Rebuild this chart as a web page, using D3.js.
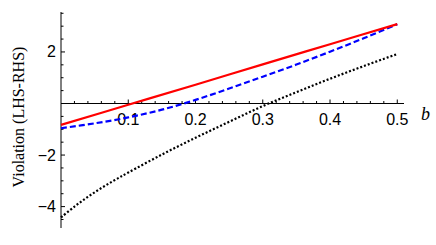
<!DOCTYPE html>
<html>
<head>
<meta charset="utf-8">
<script src="https://cdn.jsdelivr.net/npm/d3@7"></script>
<style>
  body { margin: 0; background: #fff; }
  svg { display: block; }
</style>
</head>
<body>
<div id="chart"></div>
<script>
// values
var bRed = [0, 0.1, 0.2, 0.3, 0.4, 0.5];
var red = [-0.83, -0.05, 0.73, 1.52, 2.30, 3.08];

var bBlue = [0, 0.05, 0.1, 0.15, 0.2, 0.25, 0.3, 0.35, 0.4, 0.45, 0.5];
var blue = [-0.96, -0.77, -0.54, -0.24, 0.14, 0.58, 1.04, 1.51, 2.01, 2.53, 3.08];

var bBlack = [0, 0.02, 0.04, 0.06, 0.08, 0.1, 0.15, 0.2, 0.25, 0.3, 0.35, 0.4, 0.45, 0.5];
var black = [-4.42, -4.0, -3.62, -3.28, -2.97, -2.68, -1.98, -1.33, -0.71, -0.1, 0.44, 0.96, 1.45, 1.92];

var xTicks = [0.1, 0.2, 0.3, 0.4, 0.5];
var yTicks = [-4, -2, 2];

var width = 436, height = 245;

var svg = d3.select('#chart').append('svg')
	.attr('width', width)
	.attr('height', height);

var x = d3.scaleLinear().domain([0, 0.51]).range([61, 404]);
var y = d3.scaleLinear().domain([-4.83, 3.55]).range([228, 12]);

// minor ticks
var xMinor = d3.range(0.02, 0.51, 0.02).filter(function(v) { return Math.abs(v * 10 - Math.round(v * 10)) > 1e-6; });
var yMinor = d3.range(-4.5, 3.55, 0.5).filter(function(v) { return Math.abs(v) > 1e-6 && Math.abs(v / 2 - Math.round(v / 2)) > 1e-6; });

var axes = svg.append('g').attr('stroke', '#000').attr('stroke-width', 1);

axes.append('line')
	.attr('x1', x(0)).attr('x2', x(0.51))
	.attr('y1', y(0)).attr('y2', y(0));
axes.append('line')
	.attr('x1', x(0)).attr('x2', x(0))
	.attr('y1', y(3.55)).attr('y2', y(-4.83));

axes.selectAll('.xmaj').data(xTicks).enter().append('line')
	.attr('x1', function(d) { return x(d); }).attr('x2', function(d) { return x(d); })
	.attr('y1', y(0)).attr('y2', y(0) - 4);
axes.selectAll('.xmin').data(xMinor).enter().append('line')
	.attr('x1', function(d) { return x(d); }).attr('x2', function(d) { return x(d); })
	.attr('y1', y(0)).attr('y2', y(0) - 2.5);
axes.selectAll('.ymaj').data(yTicks).enter().append('line')
	.attr('x1', x(0)).attr('x2', x(0) + 4)
	.attr('y1', function(d) { return y(d); }).attr('y2', function(d) { return y(d); });
axes.selectAll('.ymin').data(yMinor).enter().append('line')
	.attr('x1', x(0)).attr('x2', x(0) + 2.5)
	.attr('y1', function(d) { return y(d); }).attr('y2', function(d) { return y(d); });

var fmt = function(v) { return String(v).replace('-', '\u2212'); };

svg.selectAll('.xlab').data(xTicks).enter().append('text')
	.attr('x', function(d) { return x(d); })
	.attr('y', y(0) + 21.5)
	.attr('text-anchor', 'middle')
	.style('font-family', 'Liberation Sans, Arial, sans-serif')
	.style('font-size', '16px')
	.text(function(d) { return d; });

svg.selectAll('.ylab').data(yTicks).enter().append('text')
	.attr('x', x(0) - 5)
	.attr('y', function(d) { return y(d) + 5.5; })
	.attr('text-anchor', 'end')
	.style('font-family', 'Liberation Sans, Arial, sans-serif')
	.style('font-size', '16px')
	.text(fmt);

svg.append('text')
	.attr('x', 421)
	.attr('y', 119.5)
	.style('font-family', 'Liberation Serif, Times New Roman, serif')
	.style('font-style', 'italic')
	.style('font-size', '18px')
	.text('b');

svg.append('text')
	.attr('transform', 'translate(24,117) rotate(-90)')
	.attr('text-anchor', 'middle')
	.style('font-family', 'Liberation Serif, Times New Roman, serif')
	.style('font-size', '16px')
	.text('Violation (LHS-RHS)');

var line = d3.line()
	.x(function(d) { return x(d[0]); })
	.y(function(d) { return y(d[1]); })
	.curve(d3.curveCatmullRom);

svg.append('path')
	.datum(d3.zip(bBlack, black))
	.attr('d', line)
	.attr('fill', 'none')
	.attr('stroke', '#000')
	.attr('stroke-width', 2.2)
	.attr('stroke-dasharray', '2,2');

svg.append('path')
	.datum(d3.zip(bBlue, blue))
	.attr('d', line)
	.attr('fill', 'none')
	.attr('stroke', '#0000ff')
	.attr('stroke-width', 2.2)
	.attr('stroke-dasharray', '6,3');

svg.append('path')
	.datum(d3.zip(bRed, red))
	.attr('d', line)
	.attr('fill', 'none')
	.attr('stroke', '#ff0000')
	.attr('stroke-width', 2.2);
</script>
</body>
</html>
